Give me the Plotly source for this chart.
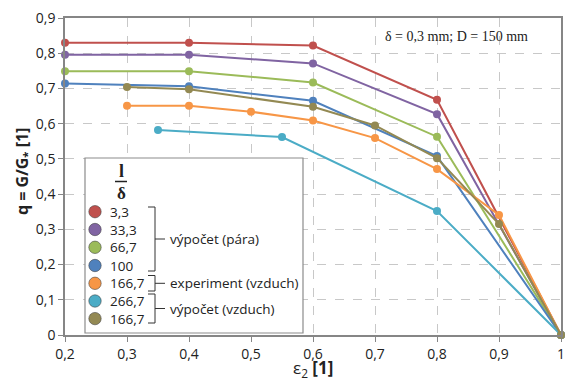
import plotly.graph_objects as go

# ---------------- data ----------------
series_names = ["3,3", "33,3", "66,7", "100", "166,7", "266,7", "166,7"]
series_colors = ["#C0504D", "#8064A2", "#9BBB59", "#4F81BD", "#F79646", "#4BACC6", "#938953"]

x_red = [0.2, 0.4, 0.6, 0.8, 1.0]
y_red = [0.830, 0.830, 0.822, 0.668, 0.0]

x_purple = [0.2, 0.4, 0.6, 0.8, 1.0]
y_purple = [0.796, 0.796, 0.771, 0.627, 0.0]

x_green = [0.2, 0.4, 0.6, 0.8, 1.0]
y_green = [0.749, 0.749, 0.717, 0.563, 0.0]

x_blue = [0.2, 0.4, 0.6, 0.8, 1.0]
y_blue = [0.714, 0.706, 0.665, 0.508, 0.0]

x_orange = [0.3, 0.4, 0.5, 0.6, 0.7, 0.8, 0.9, 1.0]
y_orange = [0.651, 0.651, 0.634, 0.609, 0.559, 0.471, 0.341, 0.0]

x_cyan = [0.35, 0.55, 0.8, 1.0]
y_cyan = [0.582, 0.562, 0.352, 0.0]

x_olive = [0.3, 0.4, 0.6, 0.7, 0.8, 0.9, 1.0]
y_olive = [0.704, 0.698, 0.648, 0.595, 0.502, 0.315, 0.0]

xs = [x_red, x_purple, x_green, x_blue, x_orange, x_cyan, x_olive]
ys = [y_red, y_purple, y_green, y_blue, y_orange, y_cyan, y_olive]

x_tickvals = [0.2, 0.3, 0.4, 0.5, 0.6, 0.7, 0.8, 0.9, 1.0]
x_ticktext = ["0,2", "0,3", "0,4", "0,5", "0,6", "0,7", "0,8", "0,9", "1"]
y_tickvals = [0, 0.1, 0.2, 0.3, 0.4, 0.5, 0.6, 0.7, 0.8, 0.9]
y_ticktext = ["0", "0,1", "0,2", "0,3", "0,4", "0,5", "0,6", "0,7", "0,8", "0,9"]

group_labels = ["výpočet (pára)", "experiment (vzduch)", "výpočet (vzduch)"]

# ---------------- layout geometry ----------------
W, H = 565, 381
L, R, T, B = 65, 4, 18, 46
PW, PH = W - L - R, H - T - B


def px(x):
    return (x - L) / PW


def py(y):
    return (H - B - y) / PH


fig = go.Figure()
for xv, yv, c, n in zip(xs, ys, series_colors, series_names):
    fig.add_trace(go.Scatter(
        x=xv, y=yv, mode="lines+markers", name=n,
        line=dict(color=c, width=2),
        marker=dict(color=c, size=8),
        showlegend=False, cliponaxis=False,
    ))

font_main = "Open Sans, DejaVu Sans, sans-serif"
axis_col = "#868686"
grid_col = "#C8C8C8"
txt_col = "#222222"

shapes = []
annotations = []

# legend box
shapes.append(dict(type="rect", xref="paper", yref="paper",
                   x0=px(85), x1=px(303), y0=py(333), y1=py(158),
                   line=dict(color="#8C8C8C", width=1.2), fillcolor="white", layer="above"))

# legend title fraction l / δ
annotations.append(dict(xref="paper", yref="paper", x=px(121), y=py(171), text="<b>l</b>",
                        showarrow=False, font=dict(family="Liberation Serif, DejaVu Serif, serif", size=18, color=txt_col),
                        xanchor="center", yanchor="middle"))
shapes.append(dict(type="line", xref="paper", yref="paper", x0=px(115), x1=px(127),
                   y0=py(181.5), y1=py(181.5), line=dict(color=txt_col, width=1.5), layer="above"))
annotations.append(dict(xref="paper", yref="paper", x=px(121), y=py(193), text="<b>δ</b>",
                        showarrow=False, font=dict(family="Liberation Serif, DejaVu Serif, serif", size=17, color=txt_col),
                        xanchor="center", yanchor="middle"))

row_y = [211.7, 229.5, 247.3, 265.5, 283.3, 301, 318.6]
for ry, c, n in zip(row_y, series_colors, series_names):
    r = 6.2
    shapes.append(dict(type="circle", xref="paper", yref="paper",
                       x0=px(95 - r), x1=px(95 + r), y0=py(ry + r), y1=py(ry - r),
                       fillcolor=c, line=dict(color="rgba(60,60,60,0.55)", width=1), layer="above"))
    annotations.append(dict(xref="paper", yref="paper", x=px(107.5), y=py(ry), text=n,
                            showarrow=False, font=dict(family=font_main, size=13.5, color=txt_col),
                            xanchor="left", yanchor="middle"))

# braces
brace_spec = [(207, 271, 239), (275.5, 291, 283.3), (294, 323, 308.5)]
for (top, bot, mid), lab in zip(brace_spec, group_labels):
    path = (f"M {px(148)},{py(top)} L {px(155)},{py(top)} L {px(155)},{py(bot)} L {px(148)},{py(bot)} "
            f"M {px(155)},{py(mid)} L {px(165)},{py(mid)}")
    shapes.append(dict(type="path", xref="paper", yref="paper", path=path,
                       line=dict(color="#333", width=1), layer="above"))
    annotations.append(dict(xref="paper", yref="paper", x=px(167.5), y=py(mid), text=lab,
                            showarrow=False, font=dict(family=font_main, size=13.5, color=txt_col),
                            xanchor="left", yanchor="middle"))

# parameter note
annotations.append(dict(xref="paper", yref="paper", x=px(456), y=py(37), text="δ = 0,3 mm; D = 150 mm",
                        showarrow=False, font=dict(family="Liberation Serif, DejaVu Serif, serif", size=14, color=txt_col),
                        xanchor="center", yanchor="middle"))

# axis titles
annotations.append(dict(xref="paper", yref="paper", x=px(22), y=py(172), text="<b>q = G/G<sub>*</sub> [1]</b>",
                        textangle=-90, showarrow=False, font=dict(family=font_main, size=16, color=txt_col),
                        xanchor="center", yanchor="middle"))
annotations.append(dict(xref="paper", yref="paper", x=px(313), y=py(368), text="ε<sub>2</sub> <b>[1]</b>",
                        showarrow=False, font=dict(family=font_main, size=17, color=txt_col),
                        xanchor="center", yanchor="middle"))

fig.update_layout(
    width=W, height=H,
    margin=dict(l=L, r=R, t=T, b=B, autoexpand=False),
    paper_bgcolor="white", plot_bgcolor="white",
    font=dict(family=font_main, size=14, color=txt_col),
    shapes=shapes, annotations=annotations,
    xaxis=dict(range=[0.2, 1.0], tickvals=x_tickvals, ticktext=x_ticktext,
               showgrid=True, gridcolor=grid_col, griddash="dash", gridwidth=1,
               showline=True, linecolor=axis_col, linewidth=1.5, mirror=True,
               ticks="outside", ticklen=5, tickcolor=axis_col, ticklabeloverflow="allow",
               zeroline=False, tickfont=dict(size=14, color=txt_col), automargin=False),
    yaxis=dict(range=[0, 0.9], tickvals=y_tickvals, ticktext=y_ticktext,
               showgrid=True, gridcolor=grid_col, griddash="dash", gridwidth=1,
               showline=True, linecolor=axis_col, linewidth=1.5, mirror=True,
               ticks="outside", ticklen=5, tickcolor=axis_col, ticklabeloverflow="allow",
               zeroline=False, tickfont=dict(size=14, color=txt_col), automargin=False),
)

fig.write_html("out.html", config={"displayModeBar": False},
               post_script="document.body.style.margin='0';document.body.style.overflow='hidden';")
